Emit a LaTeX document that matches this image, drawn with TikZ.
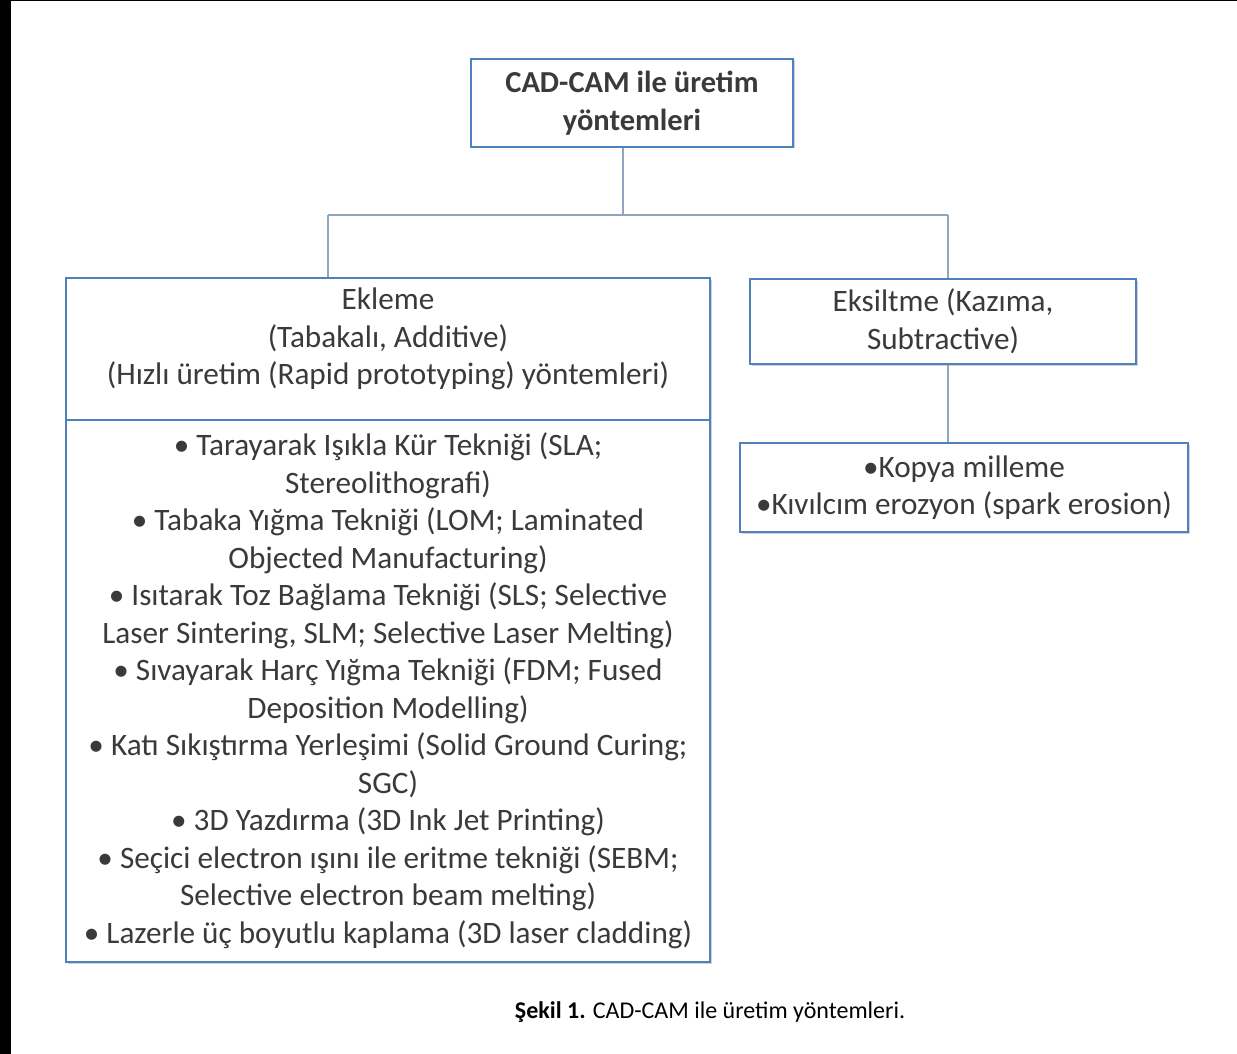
\documentclass[tikz,border=0pt]{standalone}
\usepackage{fontspec}
\setmainfont{Carlito}
\usetikzlibrary{shadows}
\definecolor{boxblue}{HTML}{4F81BD}
\definecolor{linegray}{HTML}{8FA5C0}
\definecolor{txtgray}{HTML}{3A3A3A}
\begin{document}
\begin{tikzpicture}[x=1pt,y=-1pt,
  box/.style={draw=boxblue, line width=2.8pt, fill=white, rectangle, inner sep=0pt,
    drop shadow={shadow xshift=1.5pt, shadow yshift=-1.5pt, opacity=0.35}},
  txt/.style={align=center, text=txtgray, inner sep=0pt, font=\fontsize{31.2}{37.5}\selectfont},
  conn/.style={draw=linegray, line width=1.6pt}]
\useasboundingbox (0,0) rectangle (1237,1054);
\fill[white] (0,0) rectangle (1237,1054);
\fill[black] (0,0) rectangle (11,1054);
\fill[black] (0,0) rectangle (1237,1.5);

% top box
\node[box, minimum width=322, minimum height=88] (top) at (632,103) {};
\node[txt, font=\fontsize{30.5}{37.5}\selectfont\bfseries] (toptxt) at (632,103) {CAD-CAM ile üretim\\yöntemleri};

% left box
\node[box, minimum width=644, minimum height=142] (lhead) at (388,349) {};
\node[txt] (lheadtxt) at (388,339) {Ekleme\\(Tabakalı, Additive)\\(Hızlı üretim (Rapid prototyping) yöntemleri)};
\node[box, minimum width=644, minimum height=542] (llist) at (388,691) {};
\node[txt] (llisttxt) at (388,691) {• Tarayarak Işıkla Kür Tekniği (SLA;\\Stereolithografi)\\
• Tabaka Yığma Tekniği (LOM; Laminated\\Objected Manufacturing)\\
• Isıtarak Toz Bağlama Tekniği (SLS; Selective\\Laser Sintering, SLM; Selective Laser Melting)\\
• Sıvayarak Harç Yığma Tekniği (FDM; Fused\\Deposition Modelling)\\
• Katı Sıkıştırma Yerleşimi (Solid Ground Curing;\\SGC)\\
• 3D Yazdırma (3D Ink Jet Printing)\\
• Seçici electron ışını ile eritme tekniği (SEBM;\\Selective electron beam melting)\\
• Lazerle üç boyutlu kaplama (3D laser cladding)};

% right boxes
\node[box, minimum width=386, minimum height=85] (r1) at (943,321.5) {};
\node[txt] (r1txt) at (943,321.5) {Eksiltme (Kazıma,\\Subtractive)};
\node[box, minimum width=448, minimum height=89] (r2) at (964,487.5) {};
\node[txt] (r2txt) at (964,487.5) {•Kopya milleme\\•Kıvılcım erozyon (spark erosion)};

% connectors
\coordinate (jc) at (623,215);
\coordinate (jl) at (328,215);
\coordinate (jr) at (948,215);
\path[conn] (jc |- top.south) -- (jc);
\path[conn] (jl) -- (jr);
\path[conn] (jl) -- (jl |- lhead.north);
\path[conn] (jr) -- (jr |- r1.north);
\path[conn] (jr |- r1.south) -- (jr |- r2.north);

% caption
\node[inner sep=0pt, text=black, font=\fontsize{24}{28}\selectfont] (cap) at (710,1012) {\textbf{Şekil 1.} CAD-CAM ile üretim yöntemleri.};
\end{tikzpicture}
\end{document}
